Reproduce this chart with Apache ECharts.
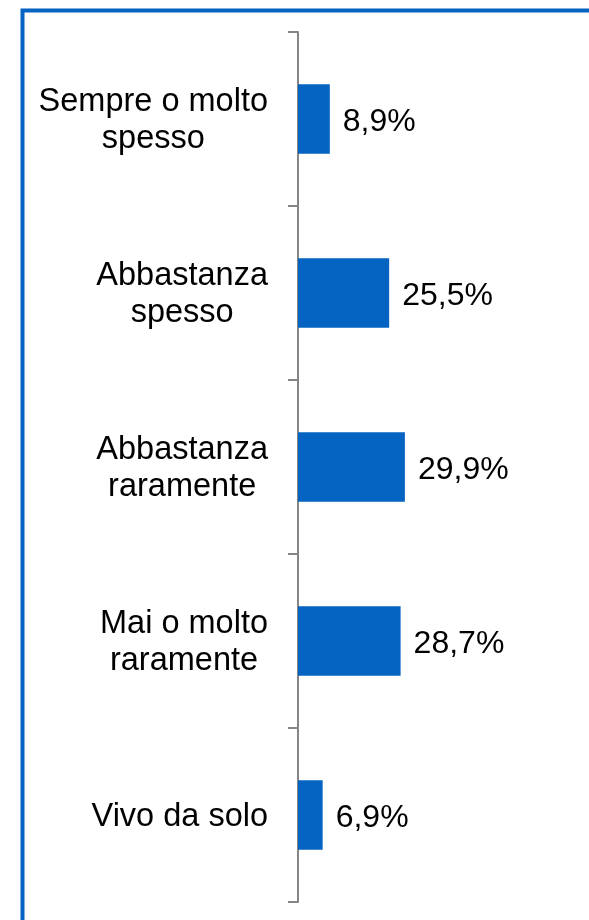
<!DOCTYPE html>
<html>
<head>
<meta charset="utf-8">
<title>Frequenza</title>
<script src="https://cdn.jsdelivr.net/npm/echarts@6/dist/echarts.min.js"></script>
<style>
  html, body { margin: 0; padding: 0; background: #fff; }
  #main { width: 589px; height: 920px; }
</style>
</head>
<body>
<div id="main"></div>
<script>
// categorie dall'alto verso il basso
var categories = [
  'Sempre o molto\nspesso',
  'Abbastanza\nspesso',
  'Abbastanza\nraramente',
  'Mai o molto\nraramente',
  'Vivo da solo'
]
// percentuali
var values = [8.9, 25.5, 29.9, 28.7, 6.9]

var FONT = '"Liberation Sans", Arial, Helvetica, sans-serif'

var myChart = echarts.init(document.getElementById('main'))

var option = {
  animation: false,
  backgroundColor: '#fff',
  // cornice blu
  graphic: [
    {
      type: 'rect',
      shape: { x: 22.5, y: 10.5, width: 800, height: 1000 },
      style: { fill: 'none', stroke: '#0563C1', lineWidth: 4 }
    }
  ],
  grid: { left: 298, top: 32, right: 5, bottom: 18 },
  xAxis: {
    type: 'value',
    min: 0,
    max: 80,
    show: false
  },
  yAxis: {
    type: 'category',
    inverse: true,
    data: categories,
    axisLine: { show: true, lineStyle: { color: '#868686', width: 2 } },
    axisTick: { show: true, alignWithLabel: false, inside: false, length: 10, lineStyle: { color: '#868686', width: 2 } },
    axisLabel: {
      margin: 30,
      color: '#000',
      fontFamily: FONT,
      fontSize: 32.5,
      padding: [4, 0, 0, 0],
      formatter: function (v) {
        return v.split('\n').map(function (l) { return '{a|' + l + '}' }).join('\n')
      },
      rich: {
        a: { align: 'center', fontSize: 32.5, fontFamily: FONT, color: '#000', lineHeight: 37 }
      }
    },
    splitLine: { show: false }
  },
  series: [
    {
      type: 'bar',
      data: values,
      barCategoryGap: '60%',
      itemStyle: { color: '#0563C1' },
      label: {
        show: true,
        position: 'right',
        distance: 13,
        offset: [0, 3],
        color: '#000',
        fontFamily: FONT,
        fontSize: 32,
        formatter: function (p) {
          return p.value.toFixed(1).replace('.', ',') + '%'
        }
      }
    }
  ]
}

myChart.setOption(option)
</script>
</body>
</html>
